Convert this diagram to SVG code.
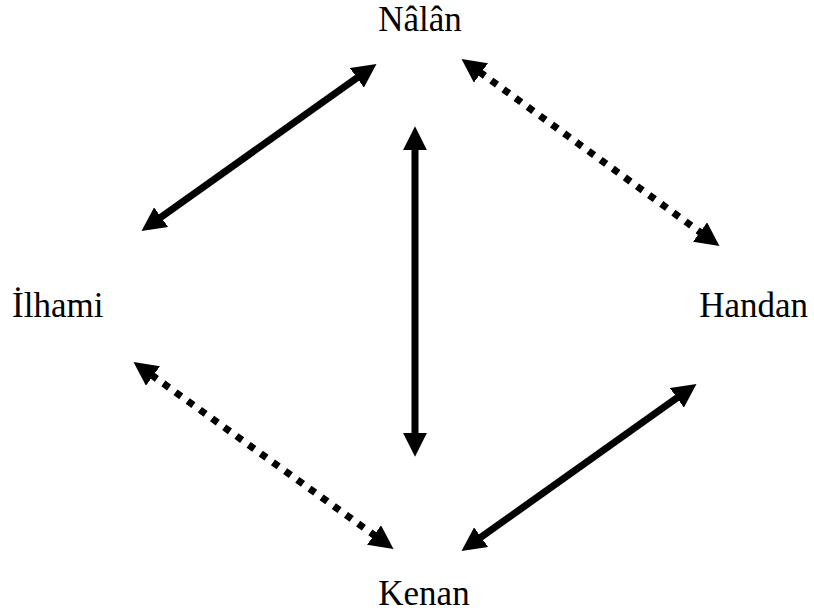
<svg xmlns="http://www.w3.org/2000/svg" width="814" height="612" viewBox="0 0 814 612">
<style>
  text { font-family: "Liberation Serif", "Times New Roman", serif; font-size: 35px; fill: #000; }
  .c { stroke: #000; stroke-width: 7; fill: none; marker-start: url(#ah); marker-end: url(#ah); }
  .d { stroke-dasharray: 7 8; }
</style>
<defs>
  <marker id="ah" markerUnits="userSpaceOnUse" markerWidth="24" markerHeight="24" refX="2" refY="11" orient="auto-start-reverse" viewBox="0 0 22 22">
    <path d="M0,0 L22,11 L0,22 z" fill="#000"/>
  </marker>
</defs>
<rect width="814" height="612" fill="#fff"/>
<g id="connectors">
  <line class="c" x1="358.7" y1="76.6" x2="159.3" y2="218.4"/>
  <line class="c d" x1="479.2" y1="71.7" x2="701.8" y2="233.3"/>
  <line class="c" x1="415" y1="148" x2="415" y2="435"/>
  <line class="c d" x1="151.2" y1="374.7" x2="375.8" y2="536.3"/>
  <line class="c" x1="678.7" y1="396.6" x2="479.3" y2="538.4"/>
</g>
<g id="nalan"><text x="420" y="31" text-anchor="middle">Nâlân</text></g>
<g id="ilhami"><text x="12" y="317">İlhami</text></g>
<g id="handan"><text x="808" y="317" text-anchor="end">Handan</text></g>
<g id="kenan"><text x="424" y="605" text-anchor="middle">Kenan</text></g>
</svg>
